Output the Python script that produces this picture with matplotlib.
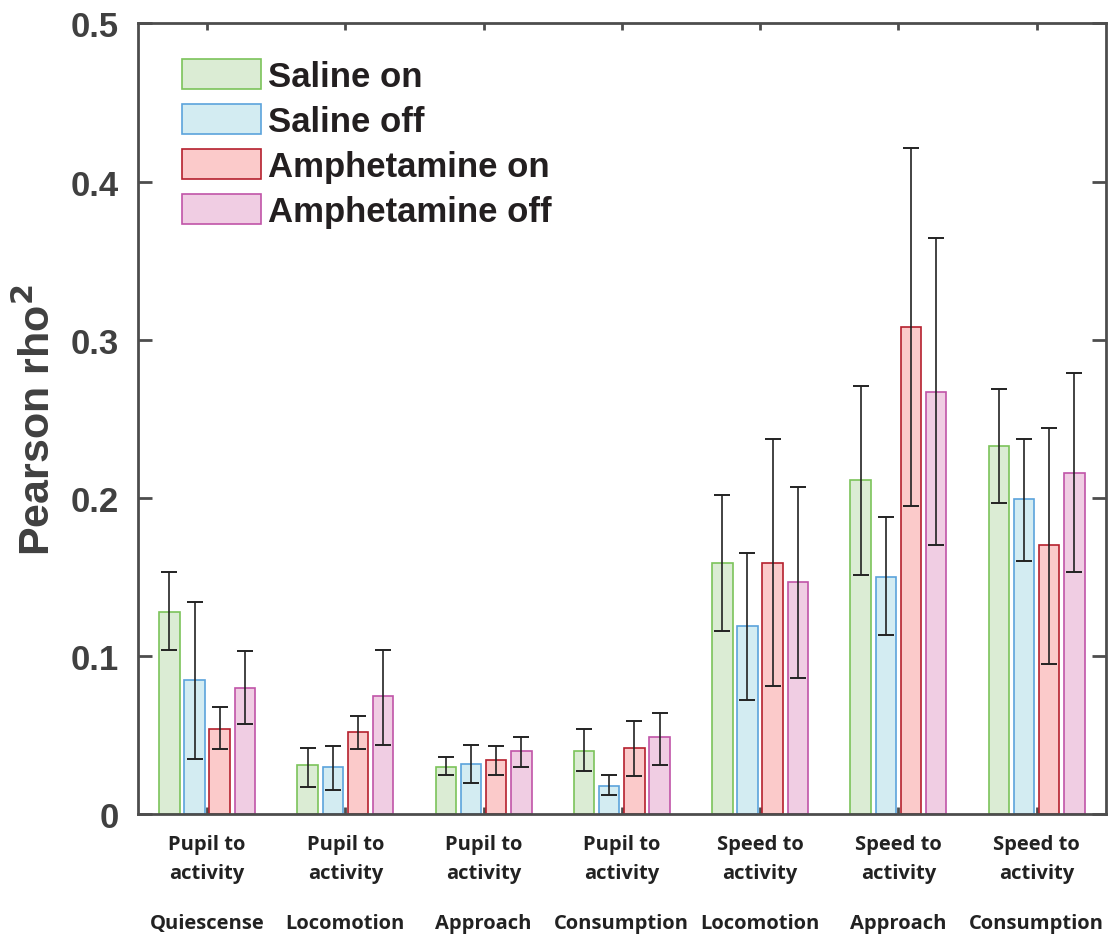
import numpy as np
import matplotlib.pyplot as plt

# values
groups = ["Quiescense", "Locomotion", "Approach", "Consumption",
          "Locomotion", "Approach", "Consumption"]
measures = ["Pupil to\nactivity"] * 4 + ["Speed to\nactivity"] * 3
series = ["Saline on", "Saline off", "Amphetamine on", "Amphetamine off"]

saline_on = [0.128, 0.031, 0.030, 0.040, 0.159, 0.211, 0.233]
saline_on_lo = [0.104, 0.017, 0.025, 0.027, 0.116, 0.151, 0.197]
saline_on_hi = [0.153, 0.042, 0.036, 0.054, 0.202, 0.271, 0.269]

saline_off = [0.085, 0.030, 0.032, 0.018, 0.119, 0.150, 0.199]
saline_off_lo = [0.035, 0.015, 0.020, 0.012, 0.072, 0.113, 0.160]
saline_off_hi = [0.134, 0.043, 0.044, 0.025, 0.165, 0.188, 0.237]

amph_on = [0.054, 0.052, 0.034, 0.042, 0.159, 0.308, 0.170]
amph_on_lo = [0.041, 0.041, 0.025, 0.024, 0.081, 0.195, 0.095]
amph_on_hi = [0.068, 0.062, 0.043, 0.059, 0.237, 0.421, 0.244]

amph_off = [0.080, 0.075, 0.040, 0.049, 0.147, 0.267, 0.216]
amph_off_lo = [0.057, 0.044, 0.030, 0.031, 0.086, 0.170, 0.153]
amph_off_hi = [0.103, 0.104, 0.049, 0.064, 0.207, 0.364, 0.279]

faces = ["#dbecd4", "#d3ecf2", "#fbcaca", "#f0cde3"]
edges = ["#7cc35a", "#5ba3dc", "#b5202d", "#c054a8"]

means = [saline_on, saline_off, amph_on, amph_off]
lows = [saline_on_lo, saline_off_lo, amph_on_lo, amph_off_lo]
highs = [saline_on_hi, saline_off_hi, amph_on_hi, amph_off_hi]

fig = plt.figure(figsize=(11.18, 9.37), dpi=100)
ax = fig.add_axes([0.1234, 0.130, 0.8656, 0.844])

x = np.arange(1, len(groups) + 1)
step = 0.182
width = 0.148
for i in range(4):
    m = np.array(means[i])
    lo = np.array(lows[i])
    hi = np.array(highs[i])
    pos = x + (i - 1.5) * step
    ax.bar(pos, m, width, color=faces[i], edgecolor=edges[i], linewidth=1.2,
           label=series[i], zorder=2)
    ax.errorbar(pos, m, yerr=[m - lo, hi - m], fmt="none", ecolor="#222222",
                elinewidth=1.2, capsize=5.5, capthick=1.4, zorder=3)

ax.set_xlim(0.5, 7.5)
ax.set_ylim(0, 0.5)
ax.set_yticks([0, 0.1, 0.2, 0.3, 0.4, 0.5])
ax.set_yticklabels(["0", "0.1", "0.2", "0.3", "0.4", "0.5"])
ax.set_xticks(x)
ax.set_xticklabels(measures)

for sp in ax.spines.values():
    sp.set_color("#4d4d4d")
    sp.set_linewidth(2)

ax.tick_params(axis="y", direction="in", length=10, width=2, color="#4d4d4d",
               right=True, labelsize=25, labelcolor="#404040", pad=14)
ax.tick_params(axis="x", direction="in", length=5, width=2, color="#4d4d4d",
               top=True, labelsize=14.5, pad=14)
for lab in ax.get_yticklabels():
    lab.set_fontweight("bold")
    lab.set_fontfamily("Liberation Sans")
for lab in ax.get_xticklabels():
    lab.set_fontweight("bold")
    lab.set_fontfamily("Open Sans")
    lab.set_color("#222222")
    lab.set_linespacing(1.65)

for xi, g in zip(x, groups):
    ax.text(xi, -0.069, g, ha="center", va="center", fontsize=14.5,
            fontweight="bold", family="Open Sans", color="#222222",
            transform=ax.transData, clip_on=False)

ax.set_ylabel("Pearson rho$^\\mathbf{2}$", fontsize=31, fontweight="bold",
              family="Liberation Sans", color="#404040", labelpad=8)

leg = ax.legend(loc="upper left", bbox_to_anchor=(0.045, 0.955), frameon=False,
                prop={"family": "Liberation Sans", "weight": "bold", "size": 25},
                handlelength=2.3, handleheight=0.95, handletextpad=0.2,
                labelspacing=0.32, borderpad=0, borderaxespad=0)
for t in leg.get_texts():
    t.set_color("#231f20")

fig.savefig("out.png", dpi=100)
